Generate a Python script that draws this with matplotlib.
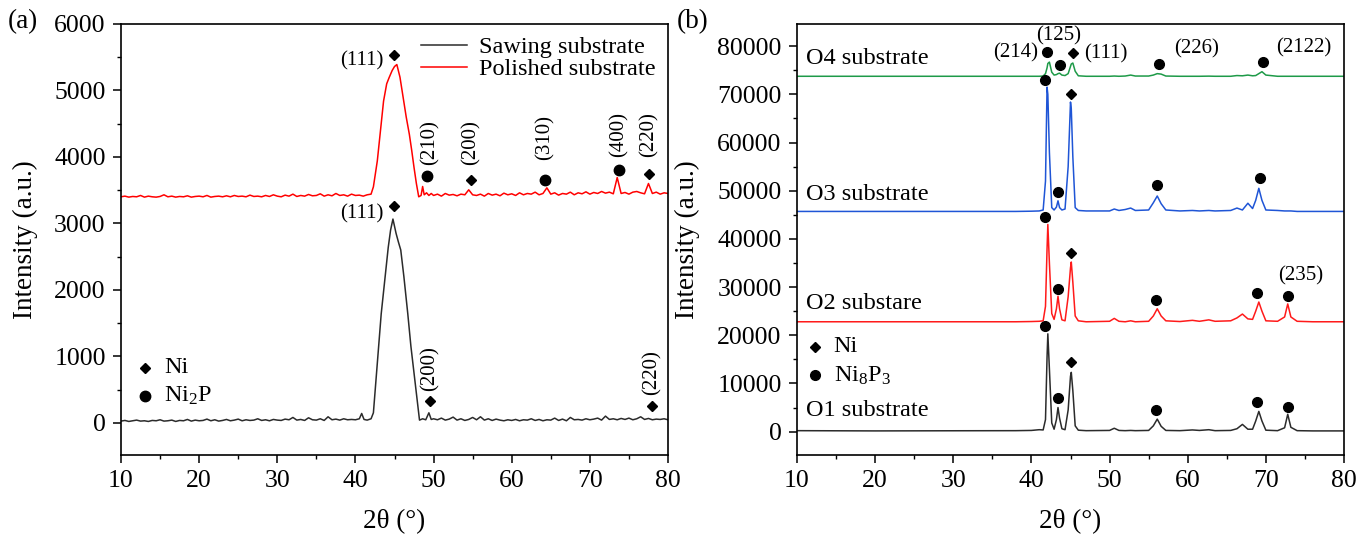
import numpy as np
import matplotlib
matplotlib.use("Agg")
import matplotlib.pyplot as plt
from matplotlib.ticker import MultipleLocator

plt.rcParams['font.family'] = ['Liberation Serif', 'DejaVu Serif']
plt.rcParams['mathtext.fontset'] = 'custom'
plt.rcParams['mathtext.rm'] = 'Liberation Serif'
plt.rcParams['mathtext.it'] = 'Liberation Serif:italic'
plt.rcParams['mathtext.default'] = 'regular'

# ---------------- Panel (a) data ----------------
saw_x_left = np.arange(10.0, 40.01, 0.5)
saw_y_left = [25, 35, 20, 30, 40, 25, 30, 20, 35, 30,
              45, 25, 30, 40, 20, 35, 30, 50, 25, 40,
              30, 35, 55, 30, 45, 25, 35, 50, 30, 40,
              55, 30, 45, 35, 40, 60, 35, 45, 30, 50,
              40, 35, 55, 45, 80, 40, 50, 35, 75, 45,
              40, 60, 35, 90, 45, 55, 40, 60, 45, 50,
              45]
saw_x_peak = [40.5, 40.8, 41.1, 41.5, 42.0, 42.3, 42.8, 43.3, 43.8, 44.2, 44.5, 44.8, 45.2,
              45.5, 45.8, 46.2, 46.7, 47.1, 47.5, 47.9, 48.2, 48.6, 49.0, 49.4, 49.7]
saw_y_peak = [60, 140, 50, 40, 60, 150, 900, 1640, 2200, 2640, 2900, 3065, 2850,
              2720, 2600, 2200, 1640, 1150, 745, 350, 40, 60, 45, 150, 50]
saw_x_right = np.arange(50.0, 80.01, 0.5)
saw_y_right = [60, 45, 70, 40, 55, 85, 40, 60, 35, 50,
               80, 45, 90, 40, 60, 35, 55, 40, 30, 45,
               35, 50, 30, 45, 40, 60, 35, 50, 30, 45,
               40, 70, 35, 55, 30, 80, 45, 50, 40, 60,
               45, 55, 70, 40, 100, 50, 60, 45, 65, 50,
               70, 45, 60, 90, 50, 65, 45, 55, 50, 60,
               45]

pol_x_left = np.arange(10.0, 40.01, 0.5)
pol_y_left = [3400, 3410, 3395, 3405, 3400, 3420, 3395, 3410, 3400, 3395,
              3405, 3430, 3400, 3410, 3395, 3405, 3400, 3415, 3395, 3405,
              3410, 3400, 3420, 3395, 3405, 3410, 3400, 3415, 3400, 3420,
              3405, 3410, 3400, 3425, 3405, 3410, 3400, 3420, 3405, 3430,
              3410, 3400, 3425, 3410, 3440, 3405, 3420, 3410, 3435, 3415,
              3420, 3445, 3410, 3430, 3415, 3450, 3420, 3430, 3410, 3440,
              3420]
pol_x_peak = [40.5, 41.0, 41.5, 42.0, 42.3, 42.8, 43.3, 43.6, 44.0, 44.3, 44.7, 45.0, 45.3,
              45.7, 46.1, 46.5, 46.9, 47.2, 47.5, 47.8, 48.1, 48.4, 48.6, 48.8, 49.1, 49.4, 49.7]
pol_y_peak = [3425, 3410, 3430, 3440, 3550, 3940, 4500, 4840, 5100, 5190, 5300, 5360, 5390,
              5200, 4900, 4600, 4340, 4100, 3840, 3600, 3400, 3420, 3555, 3430, 3460, 3420, 3450]
pol_x_right = np.arange(50.0, 80.01, 0.5)
pol_y_right = [3420, 3440, 3410, 3450, 3425, 3435, 3415, 3440, 3430, 3505,
               3430, 3420, 3440, 3410, 3450, 3425, 3440, 3415, 3455, 3430,
               3445, 3420, 3460, 3430, 3450, 3440, 3470, 3430, 3450, 3535,
               3440, 3460, 3425, 3450, 3440, 3470, 3430, 3460, 3445, 3475,
               3440, 3465, 3450, 3480, 3455, 3470, 3445, 3690, 3450, 3465,
               3440, 3470, 3480, 3460, 3445, 3600, 3450, 3470, 3440, 3460,
               3450]

# peak markers panel (a)
a_ni_x = [44.9, 54.8, 77.6, 44.9, 49.6, 77.9]
a_ni_y = [5540, 3655, 3750, 3265, 330, 250]
a_p_x = [49.2, 64.3, 73.7]
a_p_y = [3715, 3655, 3800]
a_vlabels = ["(210)", "(200)", "(310)", "(400)", "(220)", "(200)", "(220)"]
a_vlabel_x = [49.6, 54.8, 64.3, 73.7, 77.6, 49.6, 77.9]
a_vlabel_y = [3880, 3880, 3950, 4000, 4000, 480, 420]

# ---------------- Panel (b) data ----------------
b_x = [10, 20, 30, 38, 40, 41.0, 41.5, 41.8, 42.0, 42.1, 42.3, 42.6, 42.9, 43.2, 43.4, 43.6,
       43.9, 44.3, 44.7, 45.0, 45.1, 45.3, 45.6, 46.0, 47.0, 50.0, 50.6, 51.2, 52.0, 52.7,
       53.3, 55.0, 55.6, 56.1, 56.6, 57.2, 59.0, 60.6, 61.5, 62.7, 63.5, 65.5, 66.3, 67.0,
       67.7, 68.3, 68.7, 69.1, 69.5, 70.0, 71.5, 72.4, 72.8, 73.2, 74.0, 76.0, 80.0]
o1_y = [200, 150, 180, 200, 250, 400, 350, 2500, 15500, 20300, 13000, 1800, 500, 2500, 5000, 2800,
        600, 400, 4500, 11500, 12300, 8500, 1200, 300, 200, 250, 700, 250, 200, 250,
        200, 250, 1200, 2600, 1100, 250, 200, 350, 250, 400, 200, 250, 600, 1500,
        500, 500, 2200, 4200, 2200, 300, 200, 800, 3600, 900, 200, 150, 150]
o2_y = [22800, 22800, 22800, 22800, 22850, 22900, 23000, 26000, 38000, 43000, 35000, 24500, 23300, 25500, 28100, 25500,
        23200, 23000, 28000, 34000, 35200, 31000, 24000, 23000, 22800, 22900, 23500, 22900, 22800, 23000,
        22800, 22900, 24000, 25500, 24000, 23000, 22850, 23100, 22900, 23200, 22900, 23000, 23600, 24400,
        23400, 23300, 25000, 26900, 25000, 23000, 22900, 23800, 26500, 23800, 22900, 22800, 22800]
o3_y = [45700, 45700, 45700, 45700, 45750, 45800, 46000, 52000, 71500, 70000, 58000, 46500, 46000, 46600, 47900, 46500,
        46000, 46200, 55000, 68400, 67000, 57000, 46500, 45900, 45800, 45800, 46200, 45900, 46100, 46400,
        45900, 46000, 47500, 48900, 47300, 46000, 45800, 45900, 45800, 45900, 45800, 45900, 46400, 46000,
        47400, 46300, 48000, 50500, 48000, 46000, 45900, 45800, 45800, 45800, 45700, 45700, 45700]
o4_y = [73750, 73750, 73750, 73750, 73750, 73750, 73800, 74300, 75500, 76400, 76700, 74600, 74000, 74100, 74300, 74400,
        74000, 73900, 74300, 75800, 76300, 76500, 74800, 73850, 73750, 73750, 73800, 73750, 73800, 74000,
        73800, 73800, 74000, 74300, 74200, 73800, 73750, 73750, 73750, 73780, 73750, 73750, 73900, 73850,
        74000, 73850, 73900, 74300, 74700, 74000, 73750, 73750, 73750, 73750, 73750, 73750, 73750]

b_ni_x = [45.3, 45.0, 45.1, 45.0]
b_ni_y = [78650, 70150, 37150, 14450]
b_p_x = [42.0, 43.7, 56.3, 69.6, 41.8, 43.4, 56.1, 69.3,
         41.8, 43.4, 56.0, 68.9, 72.8, 41.8, 43.4, 56.0, 68.9, 72.8]
b_p_y = [78800, 76100, 76400, 76700, 72900, 49800, 51200, 52600,
         44600, 29650, 27300, 28800, 28250, 21900, 6950, 4500, 6100, 5050]
b_names = ["O4 substrate", "O3 substrate", "O2 substare", "O1 substrate"]
b_name_y = [77400, 49300, 26600, 4400]

# ---------------- Figure ----------------
fig = plt.figure(figsize=(13.58, 5.36), dpi=100)
axa = fig.add_axes([121/1358, 1-455/536, 547/1358, 431/536])
axb = fig.add_axes([797/1358, 1-455/536, 547/1358, 431/536])

TICK = 18.5
ANN = 15
LAB = 19.5
TXT = 17.5
for ax in (axa, axb):
    ax.set_xlim(10, 80)
    ax.xaxis.set_major_locator(MultipleLocator(10))
    ax.xaxis.set_minor_locator(MultipleLocator(5))
    ax.tick_params(which='major', direction='out', length=6, width=1.1, labelsize=TICK, pad=5)
    ax.tick_params(which='minor', direction='out', length=3, width=1.0)
    for s in ax.spines.values():
        s.set_linewidth(1.2)
    ax.set_xlabel("2θ (°)", fontsize=LAB)
    ax.set_ylabel("Intensity (a.u.)", fontsize=LAB)

# panel a
dark = "#2b2b2b"
saw_x = np.concatenate([saw_x_left, saw_x_peak, saw_x_right])
saw_y = np.concatenate([saw_y_left, saw_y_peak, saw_y_right])
pol_x = np.concatenate([pol_x_left, pol_x_peak, pol_x_right])
pol_y = np.concatenate([pol_y_left, pol_y_peak, pol_y_right])
axa.plot(saw_x, saw_y, color=dark, lw=1.1, label="Sawing substrate")
axa.plot(pol_x, pol_y, color="#ff0000", lw=1.1, label="Polished substrate")
axa.set_ylim(-485, 6000)
axa.yaxis.set_major_locator(MultipleLocator(1000))
axa.yaxis.set_minor_locator(MultipleLocator(500))
axa.plot(a_ni_x, a_ni_y, ls='none', marker='D', ms=4.8, color='black')
axa.plot(a_p_x, a_p_y, ls='none', marker='o', ms=7.5, color='black')
axa.text(43.6, 5450, "(111)", fontsize=ANN, ha='right', va='center')
axa.text(43.6, 3140, "(111)", fontsize=ANN, ha='right', va='center')
for t, x, y in zip(a_vlabels, a_vlabel_x, a_vlabel_y):
    axa.text(x, y, t, fontsize=ANN, ha='center', va='bottom', rotation=90)
axa.plot([13.1], [825], ls='none', marker='D', ms=4.8, color='black')
axa.plot([13.1], [400], ls='none', marker='o', ms=7.5, color='black')
axa.text(15.5, 825, "Ni", fontsize=TXT, ha='left', va='center')
axa.text(15.5, 400, "Ni$_2$P", fontsize=TXT, ha='left', va='center')
axa.legend(loc='upper right', frameon=False, fontsize=TXT, handlelength=1.9,
           labelspacing=0.0, borderaxespad=0.1, handletextpad=0.5,
           bbox_to_anchor=(1.0, 1.0))
axa.yaxis.set_label_coords(-0.152, 0.5)
axa.xaxis.set_label_coords(0.5, -0.125)

# panel b
axb.plot(b_x, o1_y, color=dark, lw=1.1)
axb.plot(b_x, o2_y, color="#ff1a1a", lw=1.1)
axb.plot(b_x, o3_y, color="#1f55d6", lw=1.1)
axb.plot(b_x, o4_y, color="#1e9a48", lw=1.1)
axb.set_ylim(-4850, 84600)
axb.yaxis.set_major_locator(MultipleLocator(10000))
axb.yaxis.set_minor_locator(MultipleLocator(5000))
axb.plot(b_ni_x, b_ni_y, ls='none', marker='D', ms=4.8, color='black')
axb.plot(b_p_x, b_p_y, ls='none', marker='o', ms=7.0, color='black')
for n, y in zip(b_names, b_name_y):
    axb.text(11.1, y, n, fontsize=TXT, ha='left', va='center')
axb.plot([12.3], [17600], ls='none', marker='D', ms=4.8, color='black')
axb.plot([12.3], [11700], ls='none', marker='o', ms=7.0, color='black')
axb.text(14.7, 17600, "Ni", fontsize=TXT, ha='left', va='center')
axb.text(14.7, 11500, "Ni$_8$P$_3$", fontsize=TXT, ha='left', va='center')
axb.text(40.9, 78700, "(214)", fontsize=ANN, ha='right', va='center')
axb.text(43.5, 82100, "(125)", fontsize=ANN, ha='center', va='center')
axb.text(46.8, 78500, "(111)", fontsize=ANN, ha='left', va='center')
axb.text(58.3, 79400, "(226)", fontsize=ANN, ha='left', va='center')
axb.text(71.3, 79700, "(2122)", fontsize=ANN, ha='left', va='center')
axb.text(74.5, 32300, "(235)", fontsize=ANN, ha='center', va='center')
axb.yaxis.set_label_coords(-0.178, 0.5)
axb.xaxis.set_label_coords(0.5, -0.125)

fig.text(8/1358, 1-22/536, "(a)", fontsize=LAB, ha='left', va='center')
fig.text(677/1358, 1-22/536, "(b)", fontsize=LAB, ha='left', va='center')

fig.savefig("out.png", dpi=100)
